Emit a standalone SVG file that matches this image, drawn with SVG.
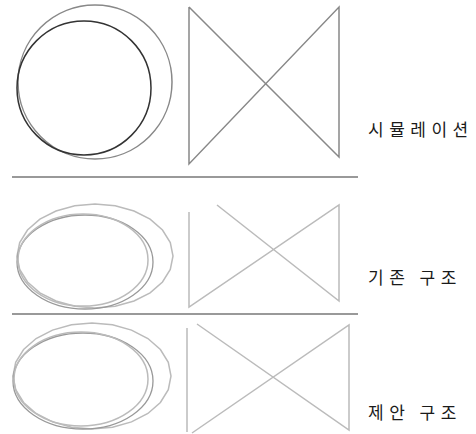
<svg xmlns="http://www.w3.org/2000/svg" width="476" height="434" viewBox="0 0 476 434">
<style>
.lbl{font-family:"Noto Sans CJK KR","Noto Sans",sans-serif;font-size:17px;fill:#1a1a1a;letter-spacing:5.5px}
.sep{stroke:#777;stroke-width:1.5;fill:none}
.dk{stroke:#333;stroke-width:1.5;fill:none}
.md{stroke:#888;stroke-width:1.5;fill:none}
.lt{stroke:#bbb;stroke-width:1.5;fill:none}
.lt2{stroke:#999;stroke-width:1.3;fill:none}
</style>
<rect width="476" height="434" fill="#fff"/>
<g id="sim">
  <circle class="md" cx="95" cy="82" r="77"/>
  <circle class="dk" cx="84" cy="88" r="67"/>
  <path class="md" d="M189,7 V164 L339,7 V157 L189,7"/>
  <text class="lbl" x="368" y="136">시뮬레이션</text>
</g>
<g id="existing">
  <polygon class="lt" points="173,256 170.3,269.5 162.5,282 150.1,292.8 134,301 115.2,306.2 95,308 74.8,306.2 56,301 39.9,292.8 27.5,282 19.7,269.5 17,256 19.7,242.5 27.5,230 39.9,219.2 56,211 74.8,205.8 95,204 115.2,205.8 134,211 150.1,219.2 162.5,230 170.3,242.5"/>
  <ellipse class="lt2" cx="85" cy="262" rx="68" ry="47"/>
  <ellipse class="lt" cx="83" cy="260" rx="65" ry="46"/>
  <path class="lt" d="M189,212 V307 L339,205 V301 L217,205"/>
  <text class="lbl" x="368" y="284">기존 구조</text>
</g>
<g id="proposed">
  <polygon class="lt" points="171,376 168.3,389.7 160.4,402.5 147.9,413.5 131.5,421.9 112.5,427.2 92,429 71.5,427.2 52.5,421.9 36.1,413.5 23.6,402.5 15.7,389.7 13,376 15.7,362.3 23.6,349.5 36.1,338.5 52.5,330.1 71.5,324.8 92,323 112.5,324.8 131.5,330.1 147.9,338.5 160.4,349.5 168.3,362.3"/>
  <ellipse class="lt2" cx="83" cy="381" rx="70" ry="48"/>
  <ellipse class="lt" cx="81" cy="379" rx="67" ry="47"/>
  <path class="lt" d="M187,328 V432 M192,433 L349,325 V430 L197,324"/>
  <text class="lbl" x="368" y="419">제안 구조</text>
</g>
<g id="connectors">
  <line class="sep" x1="12" y1="177" x2="358" y2="177"/>
  <line class="sep" x1="12" y1="314" x2="358" y2="314"/>
</g>
</svg>
